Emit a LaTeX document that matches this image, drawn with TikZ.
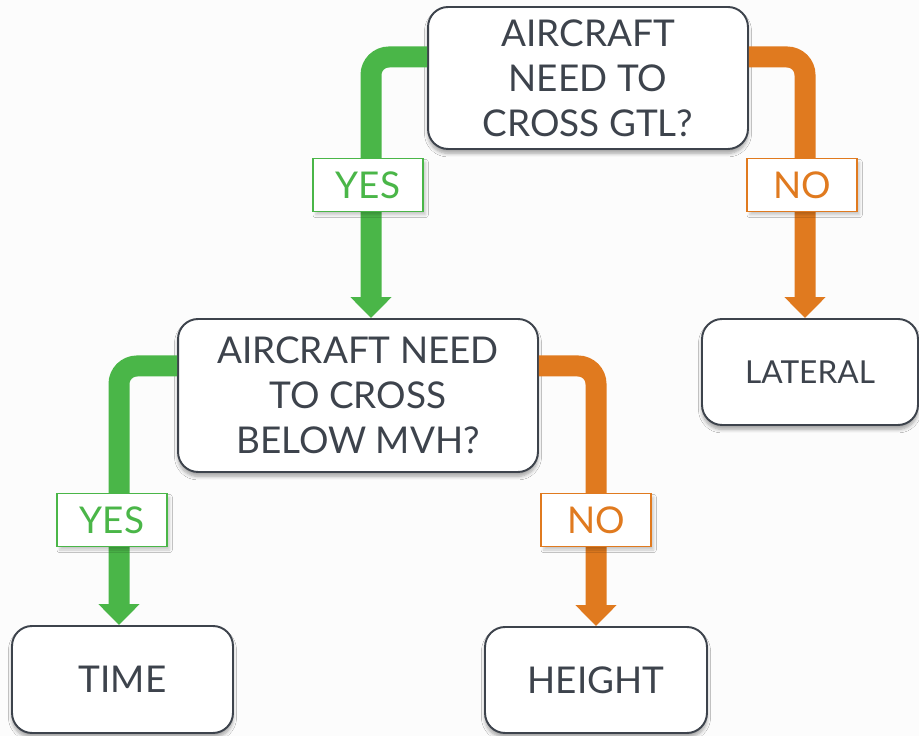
\documentclass[tikz,border=0pt]{standalone}
\usepackage{fontspec}
\setmainfont{Lato}
\usetikzlibrary{arrows.meta,shadows.blur}

\definecolor{slate}{HTML}{3D434C}
\definecolor{yesgreen}{HTML}{4AB648}
\definecolor{noorange}{HTML}{E07A1F}
\definecolor{paper}{HTML}{FCFCFC}

\tikzset{
	box/.style={draw=slate, line width=1.1pt, fill=white, rounded corners=0.4cm,
		align=center, text=slate, inner sep=0pt, font=\fontsize{21}{25.5}\selectfont,
		blur shadow={shadow xshift=0pt, shadow yshift=-2.5pt, shadow blur steps=6, shadow opacity=35}},
	tag/.style={draw=#1, text=#1, line width=1.1pt, fill=white, minimum width=2.2cm,
		minimum height=1.06cm, inner sep=0pt, font=\fontsize{21}{25.5}\selectfont,
		blur shadow={shadow xshift=1.5pt, shadow yshift=-2pt, shadow blur radius=1.5pt,
			shadow blur steps=4, shadow opacity=20}},
	flow/.style={draw=#1, line width=0.42cm, rounded corners=0.36cm,
		-{Triangle[width=0.8cm, length=0.42cm]}},
}

\begin{document}
\begin{tikzpicture}[x=0.02cm, y=0.02cm]
				\fill[paper] (0, 0) rectangle (919, 736);
				\useasboundingbox (0, 0) rectangle (919, 736);
				% questions
				\node[box, minimum width=6.4cm, minimum height=2.84cm] (d1) at (588, 658)
				{AIRCRAFT\\NEED TO\\CROSS GTL?};
				\node[box, minimum width=7.2cm, minimum height=3.06cm] (d2) at (358, 340.5)
				{AIRCRAFT NEED\\TO CROSS\\BELOW MVH?};
				% answers
				\node[box, minimum width=4.32cm, minimum height=2.12cm, font=\fontsize{18}{22}\selectfont]
				(lat) at (810, 364) {LATERAL};
				\node[box, minimum width=4.42cm, minimum height=2.14cm] (time) at (122.5, 56.5) {TIME};
				\node[box, minimum width=4.44cm, minimum height=2.12cm] (height) at (596, 56) {HEIGHT};
				% branches
				\draw[flow=yesgreen] ([yshift=0.42cm]d1.west) -| ([xshift=0.26cm]d2.north);
				\draw[flow=noorange] ([yshift=0.42cm]d1.east) -| ([xshift=-0.1cm]lat.north);
				\draw[flow=yesgreen] ([yshift=0.59cm]d2.west) -| ([xshift=-0.07cm]time.north);
				\draw[flow=noorange] ([yshift=0.59cm]d2.east) -| (height.north);
				\node[tag=yesgreen] (y1) at (368, 551) {YES};
				\node[tag=noorange] (n1) at (802, 551) {NO};
				\node[tag=yesgreen] (y2) at (112, 216) {YES};
				\node[tag=noorange] (n2) at (596, 216) {NO};
			\end{tikzpicture}
\end{document}
